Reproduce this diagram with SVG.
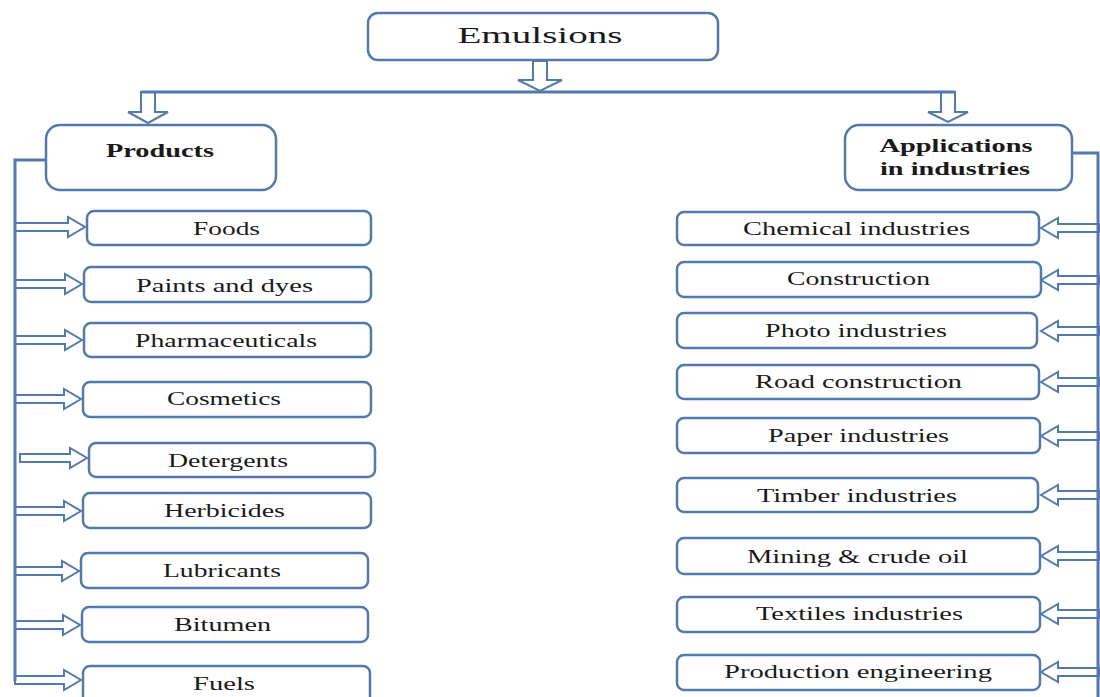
<svg xmlns="http://www.w3.org/2000/svg" width="1100" height="697" viewBox="0 0 1100 697">
<style>
.box{fill:#fff;stroke:#5479ab;stroke-width:2.5}
.ln{fill:none;stroke:#5479ab;stroke-width:3}
.ar{fill:#fff;stroke:#5479ab;stroke-width:2;stroke-linejoin:miter}
.t{font-family:"Liberation Serif","Times New Roman",serif;font-size:18.5px;fill:#1a1a1a;text-anchor:middle}
.h{font-family:"Liberation Serif","Times New Roman",serif;font-size:19px;font-weight:bold;fill:#1a1a1a;text-anchor:middle}
</style>
<rect width="1100" height="697" fill="#fff"/>
<g id="connectors">
<polygon class="ar" points="533,61 547,61 547,80 562,80 540,91 518,80 533,80"/>
<polygon class="ar" points="141,92 155,92 155,112 168,112 148,123 128,112 141,112"/>
<polygon class="ar" points="941,92 955,92 955,112 968,112 948,122 928,112 941,112"/>
<polygon class="ar" points="15,223 68,223 68,217 85,227 68,237 68,231 15,231"/>
<polygon class="ar" points="15,280 65,280 65,274 82,284 65,294 65,288 15,288"/>
<polygon class="ar" points="15,336 65,336 65,330 82,340 65,350 65,344 15,344"/>
<polygon class="ar" points="15,395 64,395 64,389 81,399 64,409 64,403 15,403"/>
<polygon class="ar" points="20,454 70,454 70,448 87,458 70,468 70,462 20,462"/>
<polygon class="ar" points="15,507 64,507 64,501 81,511 64,521 64,515 15,515"/>
<polygon class="ar" points="15,567 62,567 62,561 79,571 62,581 62,575 15,575"/>
<polygon class="ar" points="15,621 63,621 63,615 80,625 63,635 63,629 15,629"/>
<polygon class="ar" points="15,676 64,676 64,670 81,680 64,690 64,684 15,684"/>
<polygon class="ar" points="1100,224 1058,224 1058,218 1041,228 1058,238 1058,232 1100,232"/>
<polygon class="ar" points="1100,276 1058,276 1058,270 1041,280 1058,290 1058,284 1100,284"/>
<polygon class="ar" points="1100,327 1058,327 1058,321 1041,331 1058,341 1058,335 1100,335"/>
<polygon class="ar" points="1100,378 1058,378 1058,372 1041,382 1058,392 1058,386 1100,386"/>
<polygon class="ar" points="1100,432 1058,432 1058,426 1041,436 1058,446 1058,440 1100,440"/>
<polygon class="ar" points="1100,491 1058,491 1058,485 1041,495 1058,505 1058,499 1100,499"/>
<polygon class="ar" points="1100,552 1058,552 1058,546 1041,556 1058,566 1058,560 1100,560"/>
<polygon class="ar" points="1100,610 1058,610 1058,604 1041,614 1058,624 1058,618 1100,618"/>
<polygon class="ar" points="1100,668 1058,668 1058,662 1041,672 1058,682 1058,676 1100,676"/>
<polyline class="ln" points="141,92 955,92"/>
<polyline class="ln" points="46,160 15,160 15,681"/>
<polyline class="ln" points="1072,153 1098,153 1098,697"/>
</g>
<g id="emulsions"><rect class="box" x="368" y="13" width="350" height="47" rx="10"/><text class="t" style="font-size:23px" x="540" y="43" textLength="165" lengthAdjust="spacingAndGlyphs">Emulsions</text></g>
<g id="products"><rect class="box" x="46" y="125" width="230" height="65" rx="14"/><text class="h" x="160" y="157" textLength="108" lengthAdjust="spacingAndGlyphs">Products</text></g>
<g id="applications"><rect class="box" x="845" y="125" width="227" height="65" rx="14"/><text class="h" x="956" y="152" textLength="153" lengthAdjust="spacingAndGlyphs">Applications</text><text class="h" x="955" y="175" textLength="150" lengthAdjust="spacingAndGlyphs">in industries</text></g>
<g id="foods"><rect class="box" x="87" y="211" width="284" height="34" rx="7"/><text class="t" x="226.5" y="235" textLength="67" lengthAdjust="spacingAndGlyphs">Foods</text></g>
<g id="paints"><rect class="box" x="84" y="267" width="287" height="35" rx="7"/><text class="t" x="224.5" y="292" textLength="177" lengthAdjust="spacingAndGlyphs">Paints and dyes</text></g>
<g id="pharmaceuticals"><rect class="box" x="84" y="323" width="287" height="34" rx="7"/><text class="t" x="226" y="347" textLength="182" lengthAdjust="spacingAndGlyphs">Pharmaceuticals</text></g>
<g id="cosmetics"><rect class="box" x="83" y="382" width="288" height="35" rx="7"/><text class="t" x="224" y="405" textLength="114" lengthAdjust="spacingAndGlyphs">Cosmetics</text></g>
<g id="detergents"><rect class="box" x="89" y="443" width="286" height="34" rx="7"/><text class="t" x="228" y="467" textLength="120" lengthAdjust="spacingAndGlyphs">Detergents</text></g>
<g id="herbicides"><rect class="box" x="83" y="493" width="288" height="35" rx="7"/><text class="t" x="224.5" y="517" textLength="121" lengthAdjust="spacingAndGlyphs">Herbicides</text></g>
<g id="lubricants"><rect class="box" x="81" y="553" width="287" height="35" rx="7"/><text class="t" x="222" y="577" textLength="118" lengthAdjust="spacingAndGlyphs">Lubricants</text></g>
<g id="bitumen"><rect class="box" x="82" y="607" width="286" height="35" rx="7"/><text class="t" x="222.5" y="631" textLength="97" lengthAdjust="spacingAndGlyphs">Bitumen</text></g>
<g id="fuels"><rect class="box" x="83" y="666" width="287" height="40" rx="7"/><text class="t" x="224" y="690" textLength="62" lengthAdjust="spacingAndGlyphs">Fuels</text></g>
<g id="chemical"><rect class="box" x="677" y="212" width="362" height="33" rx="7"/><text class="t" x="856.5" y="235" textLength="227" lengthAdjust="spacingAndGlyphs">Chemical  industries</text></g>
<g id="construction"><rect class="box" x="677" y="262" width="364" height="35" rx="7"/><text class="t" x="858.5" y="285" textLength="143" lengthAdjust="spacingAndGlyphs">Construction</text></g>
<g id="photo"><rect class="box" x="677" y="313" width="360" height="35" rx="7"/><text class="t" x="856" y="337" textLength="182" lengthAdjust="spacingAndGlyphs">Photo industries</text></g>
<g id="road"><rect class="box" x="677" y="365" width="362" height="34" rx="7"/><text class="t" x="858.5" y="388" textLength="207" lengthAdjust="spacingAndGlyphs">Road construction</text></g>
<g id="paper"><rect class="box" x="677" y="418" width="363" height="35" rx="7"/><text class="t" x="858.5" y="442" textLength="181" lengthAdjust="spacingAndGlyphs">Paper industries</text></g>
<g id="timber"><rect class="box" x="677" y="478" width="361" height="34" rx="7"/><text class="t" x="857" y="502" textLength="200" lengthAdjust="spacingAndGlyphs">Timber industries</text></g>
<g id="mining"><rect class="box" x="677" y="538" width="363" height="36" rx="7"/><text class="t" x="857.5" y="563" textLength="221" lengthAdjust="spacingAndGlyphs">Mining &amp; crude oil</text></g>
<g id="textiles"><rect class="box" x="677" y="597" width="363" height="35" rx="7"/><text class="t" x="859.5" y="620" textLength="207" lengthAdjust="spacingAndGlyphs">Textiles industries</text></g>
<g id="production"><rect class="box" x="677" y="655" width="363" height="35" rx="7"/><text class="t" x="858" y="678" textLength="268" lengthAdjust="spacingAndGlyphs">Production engineering</text></g>
</svg>
